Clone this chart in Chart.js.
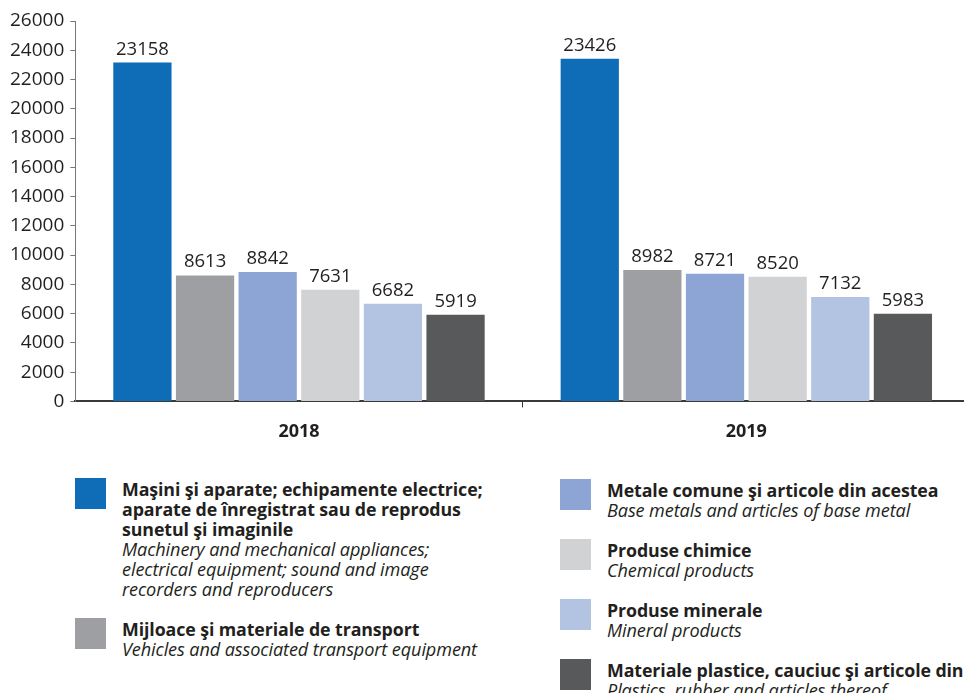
<!DOCTYPE html>
<html>
<head>
<meta charset="utf-8">
<script src="https://cdn.jsdelivr.net/npm/chart.js@4"></script>
<style>
  body { margin: 0; width: 964px; height: 693px; overflow: hidden; background: #fff; font-family: "Open Sans", sans-serif; color: #231f20; position: relative; }
  #wrap { position: absolute; left: 0; top: 0; width: 970px; height: 461px; }
  .col { position: absolute; }
  .item { position: relative; padding-left: 47px; margin-bottom: 20px; white-space: nowrap; }
  .sw { position: absolute; left: 0; top: -1px; width: 31px; height: 31px; }
  .ro { font-weight: 700; font-size: 17.8px; line-height: 20px; letter-spacing: -0.1px; }
  .en { font-style: italic; font-size: 18.1px; line-height: 20px; letter-spacing: -0.1px; }
</style>
</head>
<body>
<div id="wrap"><canvas id="chart"></canvas></div>
<div class="col" id="legLeft" style="left:75px; top:479px;"></div>
<div class="col" id="legRight" style="left:560px; top:480px;"></div>
<script>
const years = ['2018', '2019'];

const machinery = [23158, 23426];
const transport = [8613, 8982];
const metals = [8842, 8721];
const chemicals = [7631, 8520];
const minerals = [6682, 7132];
const plastics = [5919, 5983];

const yMin = 0;
const yMax = 26000;
const yStep = 2000;

const namesRo = [
  'Maşini şi aparate; echipamente electrice;\naparate de înregistrat sau de reprodus\nsunetul şi imaginile',
  'Mijloace şi materiale de transport',
  'Metale comune şi articole din acestea',
  'Produse chimice',
  'Produse minerale',
  'Materiale plastice, cauciuc şi articole din'
];
const namesEn = [
  'Machinery and mechanical appliances;\nelectrical equipment; sound and image\nrecorders and reproducers',
  'Vehicles and associated transport equipment',
  'Base metals and articles of base metal',
  'Chemical products',
  'Mineral products',
  'Plastics, rubber and articles thereof'
];
const colors = ['#0f6cb6', '#9d9fa2', '#8ca5d4', '#d1d2d4', '#b3c4e3', '#58595b'];
const seriesData = [machinery, transport, metals, chemicals, minerals, plastics];

const FONT = '"Open Sans", sans-serif';
const TEXT = '#231f20';

// value labels above each bar
const valueLabels = {
  id: 'valueLabels',
  afterDatasetsDraw(chart) {
    const ctx = chart.ctx;
    ctx.save();
    ctx.font = '18.5px ' + FONT;
    ctx.fillStyle = TEXT;
    ctx.textAlign = 'center';
    ctx.textBaseline = 'alphabetic';
    chart.data.datasets.forEach((ds, i) => {
      chart.getDatasetMeta(i).data.forEach((bar, j) => {
        ctx.fillText(String(ds.data[j]), bar.x, bar.y - 8);
      });
    });
    ctx.restore();
  }
};

new Chart(document.getElementById('chart'), {
  type: 'bar',
  data: {
    labels: years,
    datasets: seriesData.map((d, i) => ({
      label: namesEn[i],
      data: d,
      backgroundColor: colors[i],
      borderWidth: 0,
      categoryPercentage: 0.84,
      barPercentage: 0.93
    }))
  },
  options: {
    responsive: true,
    maintainAspectRatio: false,
    animation: false,
    layout: { padding: { left: 4, top: 21, right: 0, bottom: 4 } },
    plugins: { legend: { display: false }, tooltip: { enabled: false } },
    scales: {
      x: {
        grid: {
          drawOnChartArea: false,
          tickLength: 6,
          color: ctx => ctx.index === 1 ? '#333' : 'rgba(0,0,0,0)'
        },
        border: { display: true, color: '#3a3a3a', width: 2 },
        ticks: { color: TEXT, font: { family: FONT, size: 18, weight: 'bold' }, padding: 14 }
      },
      y: {
        min: yMin,
        max: yMax,
        grid: { drawOnChartArea: false, tickLength: 5, color: '#777' },
        border: { display: true, color: '#777', width: 1 },
        ticks: {
          stepSize: yStep,
          color: TEXT,
          font: { family: FONT, size: 19 },
          padding: 6,
          callback: v => String(v)
        }
      }
    }
  },
  plugins: [valueLabels]
});

// legend built from the same arrays
function addItem(col, i) {
  const item = document.createElement('div');
  item.className = 'item';
  const sw = document.createElement('div');
  sw.className = 'sw';
  sw.style.background = colors[i];
  item.appendChild(sw);
  namesRo[i].split('\n').forEach(t => {
    const d = document.createElement('div'); d.className = 'ro'; d.textContent = t; item.appendChild(d);
  });
  namesEn[i].split('\n').forEach(t => {
    const d = document.createElement('div'); d.className = 'en'; d.textContent = t; item.appendChild(d);
  });
  col.appendChild(item);
}
const left = document.getElementById('legLeft');
const right = document.getElementById('legRight');
[0, 1].forEach(i => addItem(left, i));
[2, 3, 4, 5].forEach(i => addItem(right, i));
</script>
</body>
</html>
